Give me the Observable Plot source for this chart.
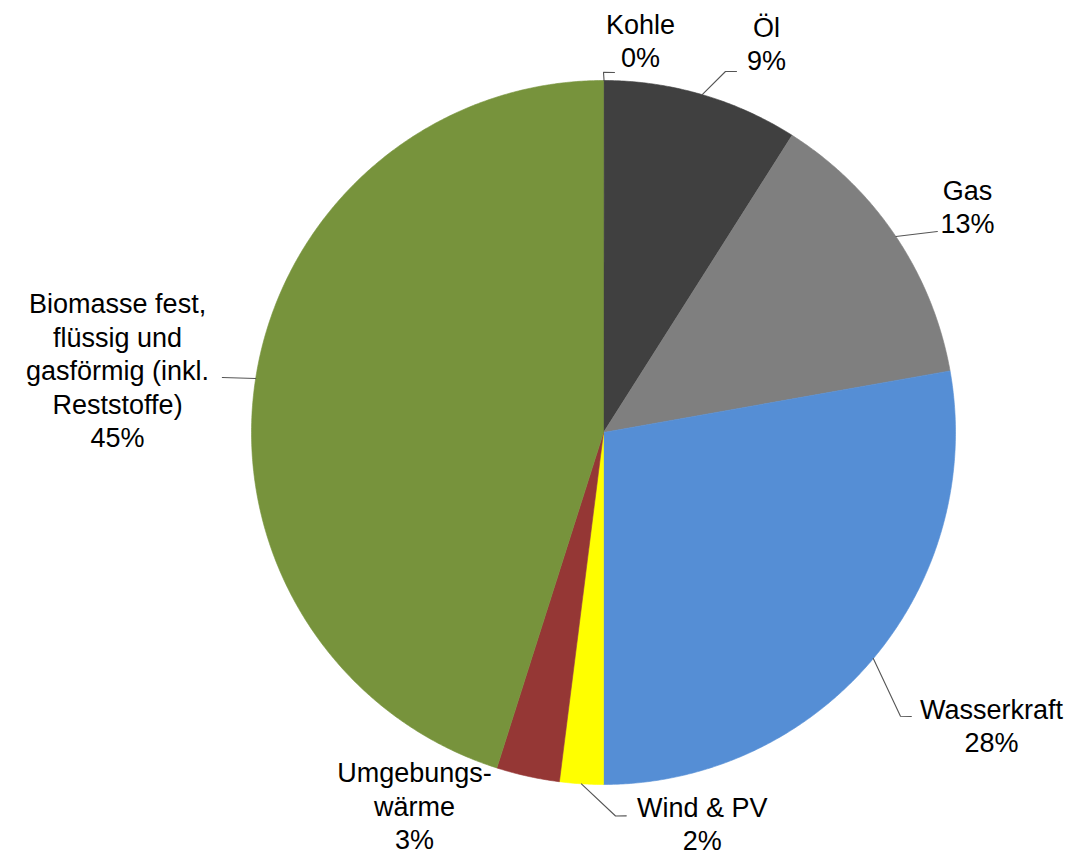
<!DOCTYPE html>
<html><head><meta charset="utf-8">
<script src="https://cdn.jsdelivr.net/npm/d3@7"></script>
<script src="https://cdn.jsdelivr.net/npm/@observablehq/plot@0.6"></script>
<style>body{margin:0;background:#fff}</style>
</head><body><div id="chart"></div>
<script>
// ---- data ----
const categories = ["Kohle", "Öl", "Gas", "Wasserkraft", "Wind & PV", "Umgebungswärme", "Biomasse fest, flüssig und gasförmig (inkl. Reststoffe)"];
const labelTexts = ["Kohle", "Öl", "Gas", "Wasserkraft", "Wind & PV", "Umgebungs-\nwärme", "Biomasse fest,\nflüssig und\ngasförmig (inkl.\nReststoffe)"];
const values = [0.05, 8.95, 13.2, 27.8, 2.0, 2.9, 45.1];
const colors = ["#262626", "#404040", "#7f7f7f", "#558ed5", "#ffff00", "#953735", "#77933c"];

// ---- label layout (polar: degrees clockwise from 12 o'clock, radius in pie radii) ----
const labelAngle = [5.4, 22.7, 58.1, 127.0, 165.8, 206.9, 277.4];
const labelRadius = [1.12, 1.20, 1.218, 1.38, 1.143, 1.187, 1.392];
// leader line bend/end points after leaving the arc at the slice's mid-angle
const leaderPoints = [
  [[0, 1.023], [1.75, 1.023]],
  [[18.67, 1.0825], [20.22, 1.093]],
  [[58.96, 1.107]],
  [[133.7, 1.167], [132.7, 1.19]],
  [[178.2, 1.09], [176.6, 1.091]],
  [],
  [[278.2, 1.094]]
];

// ---- derived geometry (unit circle, y up) ----
const arcs = d3.pie().sort(null).startAngle(0).endAngle(2 * Math.PI)(values);
const polar = (a, r) => ({x: r * Math.sin(a), y: r * Math.cos(a)});
const rad = (deg) => deg * Math.PI / 180;

const slicePts = [];
arcs.forEach((a, i) => {
  const name = categories[i];
  slicePts.push({name, ...polar(0, 0)});
  const n = Math.max(2, Math.ceil((a.endAngle - a.startAngle) / rad(0.4)));
  for (let k = 0; k <= n; k++) {
    const t = a.startAngle + (a.endAngle - a.startAngle) * k / n;
    slicePts.push({name, ...polar(t, 1)});
  }
  slicePts.push({name, ...polar(0, 0)});
});

const labels = arcs.map((a, i) => ({
  name: categories[i],
  text: `${labelTexts[i]}\n${Math.round(values[i])}%`,
  ...polar(rad(labelAngle[i]), labelRadius[i])
}));

const leaders = [];
arcs.forEach((a, i) => {
  if (!leaderPoints[i].length) return;
  const mid = (a.startAngle + a.endAngle) / 2;
  leaders.push({name: categories[i], ...polar(mid, 1)});
  leaderPoints[i].forEach(([deg, r]) => leaders.push({name: categories[i], ...polar(rad(deg), r)}));
});

const chart = Plot.plot({
  width: 1073,
  height: 857,
  marginLeft: 251,
  marginRight: 118,
  marginTop: 80,
  marginBottom: 73,
  x: {domain: [-1, 1], axis: null},
  y: {domain: [-1, 1], axis: null},
  color: {domain: categories, range: colors},
  style: {fontFamily: "'Liberation Sans', Arial, sans-serif", background: "#fff", overflow: "visible"},
  marks: [
    Plot.line(slicePts, {x: "x", y: "y", z: "name", fill: "name", stroke: "name", strokeWidth: 0.6, curve: "linear"}),
    Plot.line(leaders, {x: "x", y: "y", z: "name", stroke: "#555", strokeWidth: 1.1}),
    Plot.text(labels, {x: "x", y: "y", text: "text", fontSize: 27, lineHeight: 1.24, fill: "#000", textAnchor: "middle", lineAnchor: "middle"})
  ]
});
document.getElementById("chart").appendChild(chart);
</script>
</body></html>
